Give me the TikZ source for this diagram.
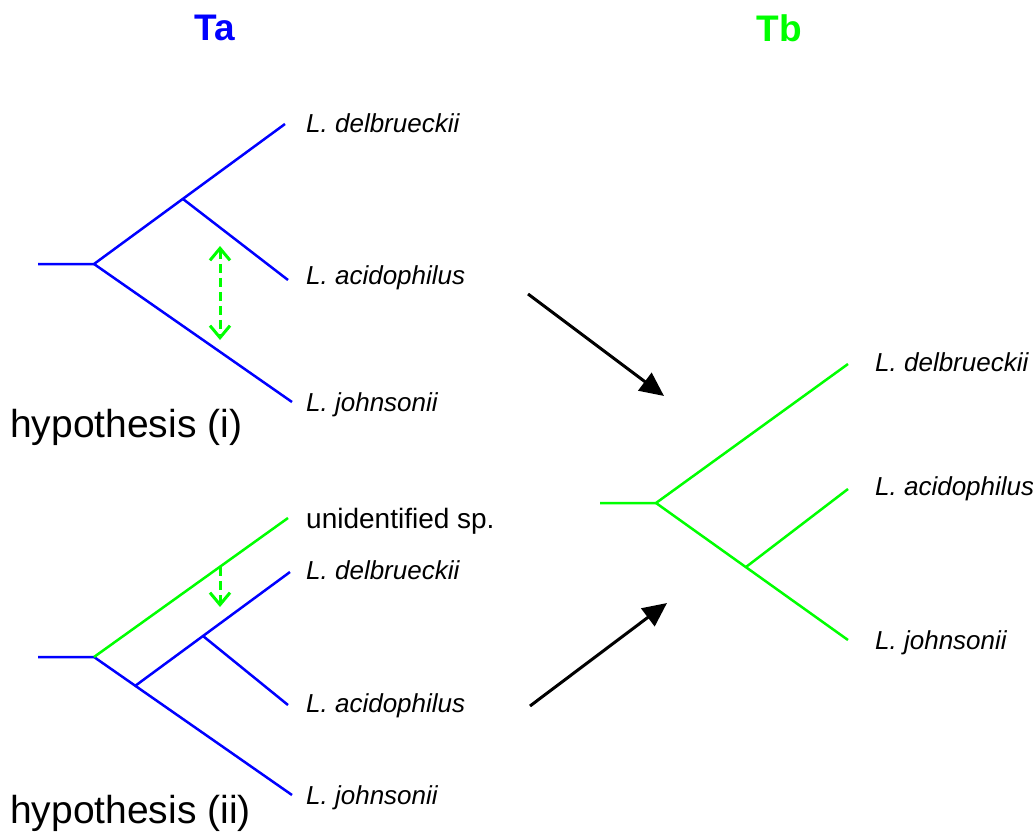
\documentclass[tikz,border=0pt]{standalone}
\usepackage{fontspec}
\setmainfont{Liberation Sans}
\usetikzlibrary{arrows.meta}

\begin{document}
\begin{tikzpicture}[x=1pt, y=-1pt,
    blueline/.style={line width=2.5pt, blue},
    greenline/.style={line width=2.5pt, green},
    swaparrow/.style={line width=3pt, green, dash pattern=on 9pt off 5pt,
        {Straight Barb[length=12pt,width=20pt,line width=3pt]}-{Straight Barb[length=12pt,width=20pt,line width=3pt]}},
    droparrow/.style={line width=3pt, green, dash pattern=on 9pt off 5pt,
        -{Straight Barb[length=12pt,width=20pt,line width=3pt]}},
    maparrow/.style={line width=3pt, black, -{Triangle[length=24pt,width=22pt]}},
    taxon/.style={anchor=base west, inner sep=0pt, font=\fontsize{26}{30}\selectfont\itshape},
    plain/.style={anchor=base west, inner sep=0pt, font=\fontsize{28}{32}\selectfont},
    hyp/.style={anchor=base west, inner sep=0pt, font=\fontsize{39}{44}\selectfont},
    ttl/.style={inner sep=0pt, font=\fontsize{37}{40}\selectfont\bfseries}]

    % Page size
    \useasboundingbox (0,0) rectangle (1033,832);

    % Titles
    \node[ttl, blue]  (ta) at (215,28) {Ta};
    \node[ttl, green] (tb) at (779,28) {Tb};

    % Hypothesis (i)
    \coordinate (s1) at (38,264);
    \coordinate (r1) at (94,264);
    \coordinate (n1) at (183,199);
    \coordinate (d1) at (285,124);
    \coordinate (a1) at (288,280);
    \coordinate (j1) at (292,402);
    \draw[blueline] (s1) -- (r1) -- (d1);
    \draw[blueline] (r1) -- (j1);
    \draw[blueline] (n1) -- (a1);
    \coordinate (h1a) at (220,246);
    \coordinate (h1b) at (220,340);
    \draw[swaparrow] (h1a) -- (h1b);
    \node[taxon] (ld1) at (306,133) {L. delbrueckii};
    \node[taxon] (la1) at (306,284) {L. acidophilus};
    \node[taxon] (lj1) at (306,411) {L. johnsonii};
    \node[hyp] (hy1) at (10,437) {hypothesis (i)};

    % Hypothesis (ii)
    \coordinate (s2) at (38,657);
    \coordinate (r2) at (94,657);
    \coordinate (u2) at (288,518);
    \coordinate (m2) at (135,686);
    \coordinate (n2) at (203,636);
    \coordinate (d2) at (290,572);
    \coordinate (a2) at (288,705);
    \coordinate (j2) at (292,795);
    \draw[blueline] (s2) -- (r2) -- (j2);
    \draw[blueline] (m2) -- (d2);
    \draw[blueline] (n2) -- (a2);
    \draw[greenline] (r2) -- (u2);
    \coordinate (h2a) at (220,567);
    \coordinate (h2b) at (220,607);
    \draw[droparrow] (h2a) -- (h2b);
    \node[plain] (lu2) at (306,528) {unidentified sp.};
    \node[taxon] (ld2) at (306,579) {L. delbrueckii};
    \node[taxon] (la2) at (306,712) {L. acidophilus};
    \node[taxon] (lj2) at (306,804) {L. johnsonii};
    \node[hyp] (hy2) at (10,823) {hypothesis (ii)};

    % Arrows to Tb
    \coordinate (p1) at (528,294);
    \coordinate (q1) at (664,396);
    \coordinate (p2) at (530,706);
    \coordinate (q2) at (667,603);
    \draw[maparrow] (p1) -- (q1);
    \draw[maparrow] (p2) -- (q2);

    % Tree Tb
    \coordinate (s3) at (600,503);
    \coordinate (r3) at (656,503);
    \coordinate (d3) at (848,364);
    \coordinate (n3) at (746,567);
    \coordinate (a3) at (848,489);
    \coordinate (j3) at (848,640);
    \draw[greenline] (s3) -- (r3) -- (d3);
    \draw[greenline] (r3) -- (j3);
    \draw[greenline] (n3) -- (a3);
    \node[taxon] (ld3) at (875,371) {L. delbrueckii};
    \node[taxon] (la3) at (875,495) {L. acidophilus};
    \node[taxon] (lj3) at (875,649) {L. johnsonii};

\end{tikzpicture}
\end{document}
